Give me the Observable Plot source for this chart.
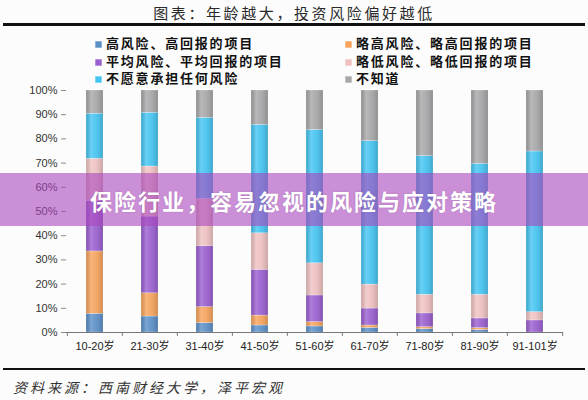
<!DOCTYPE html>
<html>
<head>
<meta charset="utf-8">
<script src="https://cdn.jsdelivr.net/npm/d3@7"></script>
<script src="https://cdn.jsdelivr.net/npm/@observablehq/plot@0.6"></script>
<style>
  html, body { margin: 0; padding: 0; background: #fcfcfc; }
  #page { position: relative; width: 588px; height: 400px; overflow: hidden; background: #fcfcfc;
          font-family: "Noto Sans CJK SC", sans-serif; }
  #title { position: absolute; top: 2px; left: 0; width: 588px; text-align: center;
           font-size: 15px; letter-spacing: 2.6px; color: #2a2a2a; line-height: 22px; font-weight: 400; }
  .hr { position: absolute; left: 3px; width: 582px; background: #111; }
  #legend { position: absolute; top: 34px; left: 0; width: 588px; height: 54px; }
  .item { position: absolute; height: 17px; line-height: 17px;
          font-size: 13px; font-weight: 700; letter-spacing: 1.8px; color: #111; white-space: nowrap; }
  .swatch { display: inline-block; width: 7px; height: 7px; margin-right: 4px; vertical-align: 0px;
            box-shadow: inset 0 0 0 0.5px rgba(255,255,255,0.6); }
  #chart { position: absolute; top: 82px; left: 0; }
  #caption { position: absolute; top: 376px; left: 13px; font-size: 14px; font-style: italic;
             letter-spacing: 3px; color: #333; line-height: 22px; }
  #banner { position: absolute; top: 173px; left: 0; width: 588px; height: 53px;
            background: rgba(170, 70, 190, 0.6); display: flex; align-items: center; justify-content: center;
            color: #fff; font-size: 22px; font-weight: 700; letter-spacing: 2px;
            text-shadow: 0 0 2px rgba(0,0,0,0.15); }
</style>
</head>
<body>
<div id="page">
  <div id="title">图表：年龄越大，投资风险偏好越低</div>
  <div class="hr" style="top:23px;height:2.5px"></div>
  <div id="legend"></div>
  <div id="chart"></div>
  <div class="hr" style="top:368px;height:2px"></div>
  <div id="caption">资料来源：西南财经大学，泽平宏观</div>
  <div id="banner">保险行业，容易忽视的风险与应对策略</div>
</div>
<script>
// Age groups along the x axis
const ages = ["10-20岁", "21-30岁", "31-40岁", "41-50岁", "51-60岁", "61-70岁", "71-80岁", "81-90岁", "91-101岁"];

// Risk-preference categories, stacked from the bottom up
const seriesNames = [
  "高风险、高回报的项目",
  "略高风险、略高回报的项目",
  "平均风险、平均回报的项目",
  "略低风险、略低回报的项目",
  "不愿意承担任何风险",
  "不知道"
];
const seriesColors = ["#5b8fc8", "#f6a35c", "#9a5fd0", "#efc1c1", "#45c4f1", "#a7a7a9"];

// Shares (%) per age group
const highRisk     = [7.7, 6.6, 3.9, 2.9, 2.5, 1.9, 1.4, 1.0, 0];
const slightlyHigh = [25.8, 9.6, 6.6, 4.1, 1.8, 1.0, 0.8, 0.8, 0];
const average      = [20.8, 31.7, 25.2, 18.9, 11.0, 7.0, 5.7, 4.0, 5.0];
const slightlyLow  = [17.5, 20.7, 19.5, 15.1, 13.3, 9.9, 7.7, 9.8, 3.4];
const noRisk       = [18.6, 22.2, 33.5, 44.8, 55.1, 59.3, 57.3, 54.1, 66.4];
const unknown      = [9.6, 9.2, 11.3, 14.2, 16.3, 20.9, 27.1, 30.3, 25.2];

const yTicks = [0, 10, 20, 30, 40, 50, 60, 70, 80, 90, 100];

const seriesValues = [highRisk, slightlyHigh, average, slightlyLow, noRisk, unknown];
const rows = [];
seriesValues.forEach((vals, s) => {
  ages.forEach((age, i) => rows.push({ age, series: seriesNames[s], value: vals[i] }));
});

// Legend: two columns, three rows
const legend = document.getElementById("legend");
const colX = [95, 345];
const rowY = [0, 17.5, 35];
seriesNames.forEach((name, i) => {
  const item = document.createElement("div");
  item.className = "item";
  item.style.left = colX[i % 2] + "px";
  item.style.top = rowY[Math.floor(i / 2)] + "px";
  const sw = document.createElement("span");
  sw.className = "swatch";
  sw.style.background = seriesColors[i];
  item.appendChild(sw);
  item.appendChild(document.createTextNode(name));
  legend.appendChild(item);
});

const W = 588, H = 280, ML = 66, MR = 25;
const step = (W - ML - MR) / ages.length;
const axisGray = "#8a8a8a";

const svg = Plot.plot({
  width: W,
  height: H,
  marginTop: 8,
  marginBottom: 30,
  marginLeft: ML,
  marginRight: MR,
  style: { background: "transparent", fontFamily: "'Liberation Sans', 'Noto Sans CJK SC', sans-serif", fontSize: "11px", color: "#333" },
  x: { domain: ages, paddingInner: 0.69, paddingOuter: 0.345, label: null },
  y: { domain: [0, 100], label: null },
  color: { domain: seriesNames, range: seriesColors },
  marks: [
    Plot.barY(rows, { x: "age", y: "value", fill: "series", stroke: "#fff", strokeOpacity: 0.45, strokeWidth: 0.6 }),
    Plot.barY(rows, { x: "age", y: "value", fill: "url(#bar-shade)" }),
    Plot.axisY({ ticks: yTicks, tickFormat: d => d + "%", tickSize: 5, tickPadding: 4, stroke: axisGray, fill: "#333", line: true, label: null }),
    Plot.axisX({ tickSize: 0, tickPadding: 10, fill: "#222", fontSize: 11, label: null }),
    Plot.ruleY([0], { stroke: "#777" }),
    Plot.ruleX(ages, { x: d => d, dx: -step / 2, y1: 0, y2: -1.6, stroke: "#777" }),
    Plot.ruleX(ages.slice(-1), { x: d => d, dx: step / 2, y1: 0, y2: -1.6, stroke: "#777" })
  ]
});

// Soft cylindrical shading for the columns
svg.insertAdjacentHTML("afterbegin", `
  <defs>
    <linearGradient id="bar-shade" x1="0" x2="1" y1="0" y2="0">
      <stop offset="0" stop-color="#000" stop-opacity="0.14"/>
      <stop offset="0.3" stop-color="#fff" stop-opacity="0.2"/>
      <stop offset="0.55" stop-color="#fff" stop-opacity="0.08"/>
      <stop offset="1" stop-color="#000" stop-opacity="0.16"/>
    </linearGradient>
  </defs>`);

document.getElementById("chart").appendChild(svg);
</script>
</body>
</html>
